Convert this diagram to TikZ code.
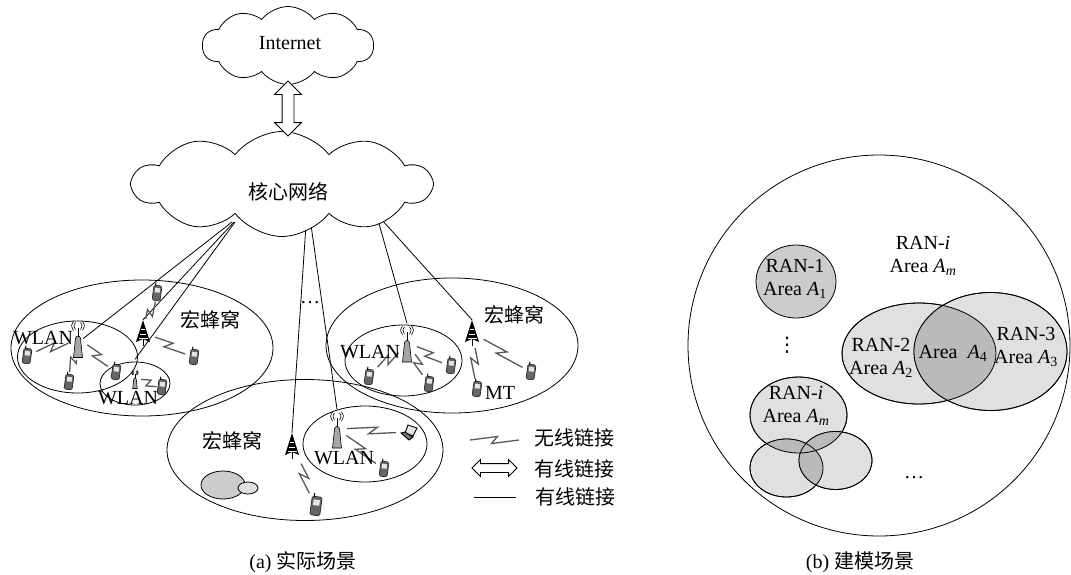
\documentclass[tikz,border=0pt]{standalone}
\usepackage{fontspec}
\setmainfont{Liberation Serif}
\newfontfamily\cjk{Noto Sans CJK SC}
\newfontfamily\sym{DejaVu Sans}
\usetikzlibrary{positioning, calc, shapes.geometric, shapes.symbols, shapes.arrows}
\tikzset{
	area/.style={draw, line width=.8pt, ellipse, inner sep=0pt, outer sep=0pt},
	puff/.style={draw, line width=.8pt, fill=white, cloud, cloud puffs=10, cloud puff arc=105, aspect=2.6, inner sep=0pt},
	dbl/.style={draw, line width=.8pt, fill=white, double arrow, double arrow head indent=0pt, inner xsep=0pt},
	label/.style={align=center, inner sep=0pt},
	wired/.style={line width=.8pt},
	wireless/.style={draw=black!65, line width=1.3pt, shorten <=5pt, shorten >=5pt,
		to path={-- ($(\tikztostart)!.56!(\tikztotarget)!3.5pt!90:(\tikztotarget)$) -- ($(\tikztostart)!.44!(\tikztotarget)!3.5pt!-90:(\tikztotarget)$) -- (\tikztotarget)}},
	phone/.pic={
		\begin{scope}[rotate=-8]
			\node [draw=black!85, line width=.7pt, fill=black!60, rounded corners=1.5pt, minimum width=8pt, minimum height=15pt, inner sep=0pt, transform shape] (-body) {};
			\fill [black!10] (-2.5,-5) rectangle (2.5,-.5);
			\draw [line width=1pt] (-2.5,-7) -- (-2.5,-10);
		\end{scope}
	},
	tower/.pic={
		\node [minimum width=14pt, minimum height=26pt, inner sep=0pt] (-body) {};
		\fill (0,-13) -- (7,9) -- (0,6) -- (-7,9) -- cycle;
		\draw [line width=.8pt] (0,5) -- (0,13);
		\draw [white, line width=.4pt] (-3,1) -- (3,1) (-4.5,5) -- (4.5,5) (-2,-4) -- (2,-4);
	},
	ap/.pic={
		\node [minimum width=10pt, minimum height=39pt, inner sep=0pt] (-body) {};
		\draw [fill=black!35, line width=.6pt] (-2.5,0) arc (180:0:2.5pt) -- (4.5,19) -- (-4.5,19) -- cycle;
		\draw [line width=1pt] (0,-11) -- (0,-2);
		\draw [line width=.6pt] (-2.5,-16) .. controls (-4.5,-13) .. (-2.5,-9) (2.5,-16) .. controls (4.5,-13) .. (2.5,-9) (-4.5,-17) .. controls (-7,-13) .. (-4.5,-8) (4.5,-17) .. controls (7,-13) .. (4.5,-8);
	},
	laptop/.pic={
		\node [minimum width=16pt, minimum height=14pt, inner sep=0pt] (-body) {};
		\draw [fill=black!10, line width=.9pt] (-1,-7) -- (8,-4) -- (4,4) -- (-4,1) -- cycle;
		\draw [fill=black!55, line width=.9pt] (-8,1) -- (-4,0) -- (4,5) -- (0,8) -- cycle;
	}
}
\begin{document}
\begin{tikzpicture}[x=1pt, y=-1pt, every node/.style={font=\fontsize{20}{23}\selectfont}]
	\useasboundingbox (0,0) rectangle (1071,574);

	\node [area, minimum width=262pt, minimum height=136pt] (macroA) at (142,348) {};
	\node [area, minimum width=120pt, minimum height=72pt] (wlanA) at (77.5,357) {};
	\node [area, minimum width=70pt, minimum height=43pt] (wlanB) at (135,383.5) {};
	\node [area, minimum width=252pt, minimum height=135pt] (macroB) at (452,345.5) {};
	\node [area, minimum width=117pt, minimum height=71pt] (wlanC) at (403.5,360.5) {};
	\node [area, minimum width=276pt, minimum height=141pt] (macroC) at (305,450) {};
	\node [area, minimum width=124pt, minimum height=76pt] (wlanD) at (365,444) {};
	\node [area, fill=black!20, minimum width=44pt, minimum height=28pt] (hotA) at (223,485) {};
	\node [area, fill=black!12, minimum width=20pt, minimum height=12pt] (hotB) at (248,488) {};

	\coordinate (coreA) at (232,222);
	\coordinate (coreB) at (234,222);
	\coordinate (coreC) at (235,222);
	\coordinate (coreD) at (306,225);
	\coordinate (coreE) at (311,225);
	\coordinate (coreF) at (378,220);
	\coordinate (coreG) at (382,220);

	\pic (apA) at (78,338.5) {ap};
	\pic [scale=.5] (apB) at (135,379) {ap};
	\pic (apC) at (407,343) {ap};
	\pic (apD) at (337,429) {ap};
	\pic (towA) at (143,333) {tower};
	\pic (towB) at (472,333) {tower};
	\pic (towC) at (292,446) {tower};
	\pic (phA) at (157,293) {phone};
	\pic (phB) at (27,356) {phone};
	\pic (phC) at (69,382) {phone};
	\pic (phD) at (116,372) {phone};
	\pic (phE) at (162,387) {phone};
	\pic (phF) at (194,357) {phone};
	\pic (phG) at (369,377) {phone};
	\pic (phH) at (451,366) {phone};
	\pic (phI) at (429,384) {phone};
	\pic (phJ) at (477,389) {phone};
	\pic (phK) at (531,372) {phone};
	\pic (phL) at (384,469) {phone};
	\pic [scale=1.25] (phM) at (316,506) {phone};
	\pic (lapA) at (409,432) {laptop};

	\draw [wired] (coreA) -- (apA-body.east);
	\draw [wired] (coreB) -- (towA-body.north);
	\draw [wired] (coreC) -- (apB-body.north);
	\draw [wired] (coreD) -- (towC-body.north);
	\draw [wired] (coreE) -- (apD-body.north);
	\draw [wired] (coreF) -- (apC-body.north);
	\draw [wired] (coreG) -- (towB-body.north);

	\draw [wireless, shorten <=1pt, shorten >=1pt] (phA-body) to (towA-body);
	\draw [wireless] (apA-body) to (phB-body);
	\draw [wireless, shorten <=2pt, shorten >=2pt] (apA-body) to (phC-body);
	\draw [wireless] (apA-body) to (phD-body);
	\draw [wireless, shorten <=1pt, shorten >=1pt] (apB-body) to (phE-body);
	\draw [wireless] (towA-body) to (phF-body);
	\draw [wireless] (apC-body) to (phG-body);
	\draw [wireless] (apC-body) to (phH-body);
	\draw [wireless] (apC-body) to (phI-body);
	\draw [wireless, shorten <=2pt, shorten >=2pt] (towB-body) to (phJ-body);
	\draw [wireless] (towB-body) to (phK-body);
	\draw [wireless] (apD-body) to (lapA-body);
	\draw [wireless] (apD-body) to (phL-body);
	\draw [wireless] (towC-body) to (phM-body);

	\node [puff, minimum width=171pt, minimum height=78pt] (inet) at (288,45.5) {};
	\node [label] (inetText) at (290,43) {Internet};
	\node [puff, minimum width=298pt, minimum height=105pt] (core) at (282,184) {};
	\node [label] (coreText) at (288,192) {\cjk 核心网络};
	\node [dbl, minimum height=55pt, inner ysep=5.5pt, double arrow head extend=7.5pt, rotate=90] (trunk) at (288,108.5) {};

	\node [label] (cellA) at (210,320) {\cjk 宏蜂窝};
	\node [label] (cellB) at (514,315) {\cjk 宏蜂窝};
	\node [label] (cellC) at (232,441) {\cjk 宏蜂窝};
	\node [label] (wlanTextA) at (43,338) {WLAN};
	\node [label] (wlanTextB) at (128,398) {WLAN};
	\node [label] (wlanTextC) at (370,352) {WLAN};
	\node [label] (wlanTextD) at (344,458) {WLAN};
	\node [label] (mt) at (500,393) {MT};
	\node [label] (gap) at (310,303) {…};

	\coordinate (keyAl) at (470,440);
	\coordinate (keyAr) at (519,440);
	\draw [wireless, shorten <=0pt, shorten >=0pt] (keyAl) to (keyAr);
	\node [label] (keyAt) at (574,438) {\cjk 无线链接};
	\node [dbl, minimum height=45pt, inner ysep=4pt, double arrow head extend=4pt] (keyB) at (494.5,468) {};
	\node [label] (keyBt) at (574,469) {\cjk 有线链接};
	\coordinate (keyCl) at (474,497);
	\coordinate (keyCr) at (516,497);
	\draw [wired] (keyCl) -- (keyCr);
	\node [label] (keyCt) at (575,497) {\cjk 有线链接};

	\node [label] (capA) at (303,562) {(a) {\cjk 实际场景}};
	\node [label] (capB) at (860,562) {(b) {\cjk 建模场景}};

	\node [area, minimum width=382pt, minimum height=381pt] (whole) at (879,345.5) {};
	\node [area, fill=black!20, minimum width=80pt, minimum height=73pt] (ranA) at (796,281.5) {};
	\node [area, fill=black!12, minimum width=154pt, minimum height=101pt] (ranB) at (919,353.5) {};
	\node [area, fill=black!12, minimum width=153pt, minimum height=118pt] (ranC) at (990.5,351.5) {};
	\node [area, fill=black!12, minimum width=97pt, minimum height=76pt] (ranI) at (798.5,415) {};
	\node [area, fill=black!12, minimum width=73pt, minimum height=58pt] (ranJ) at (786.5,468) {};
	\node [area, fill=black!12, minimum width=73pt, minimum height=58pt] (ranK) at (835.5,460.5) {};
	\begin{scope}
		\clip (919,353.5) ellipse (77pt and 50.5pt);
		\fill [black!27] (990.5,351.5) ellipse (76.5pt and 59pt);
	\end{scope}
	\begin{scope}
		\clip (798.5,415) ellipse (48.5pt and 38pt);
		\fill [black!27] (786.5,468) ellipse (36.5pt and 29pt);
		\fill [black!27] (835.5,460.5) ellipse (36.5pt and 29pt);
	\end{scope}
	\begin{scope}
		\clip (786.5,468) ellipse (36.5pt and 29pt);
		\fill [black!27] (835.5,460.5) ellipse (36.5pt and 29pt);
	\end{scope}
	\draw [line width=.8pt] (919,353.5) ellipse (77pt and 50.5pt);
	\draw [line width=.8pt] (990.5,351.5) ellipse (76.5pt and 59pt);
	\draw [line width=.8pt] (798.5,415) ellipse (48.5pt and 38pt);
	\draw [line width=.8pt] (786.5,468) ellipse (36.5pt and 29pt);
	\draw [line width=.8pt] (835.5,460.5) ellipse (36.5pt and 29pt);

	\node [label] (ranText) at (923,256) {RAN-\textit{i}\\Area \textit{A}\textsubscript{\textit{m}}};
	\node [label] (ranAText) at (795,279) {RAN-1\\Area \textit{A}\textsubscript{1}};
	\node [label] (ranBText) at (881,358) {RAN-2\\Area \textit{A}\textsubscript{2}};
	\node [label] (ranCText) at (1026,347) {RAN-3\\Area \textit{A}\textsubscript{3}};
	\node [label] (ranDText) at (953,353) {Area\ \ \textit{A}\textsubscript{4}};
	\node [label] (ranIText) at (796,406) {RAN-\textit{i}\\Area \textit{A}\textsubscript{\textit{m}}};
	\node [label] (dotsV) at (787,345) {\sym ⋮};
	\node [label] (dotsH) at (914,478) {…};

\end{tikzpicture}
\end{document}
